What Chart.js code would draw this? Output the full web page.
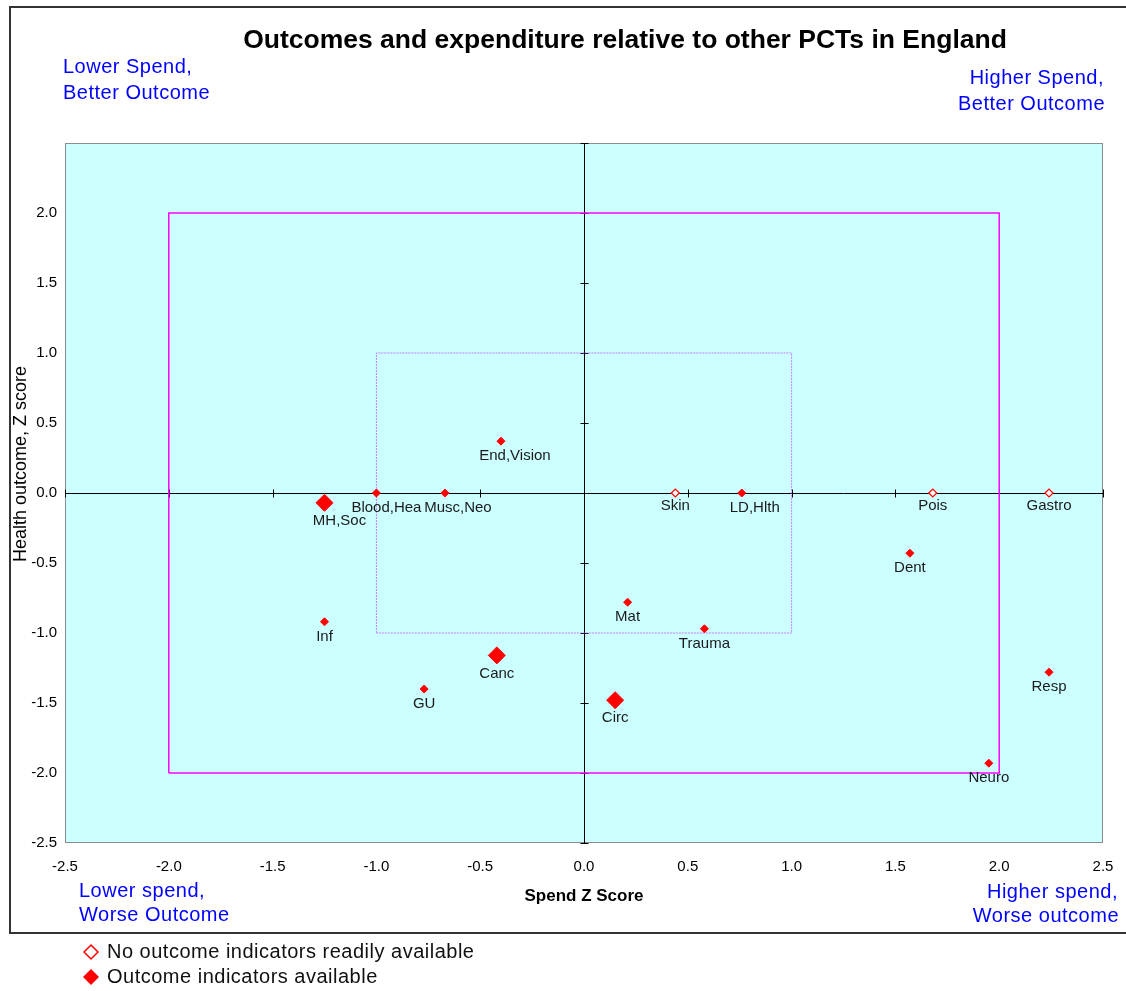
<!DOCTYPE html>
<html lang="en">
<head>
    <meta charset="UTF-8">
    <title>Outcomes and expenditure</title>
    <script src="https://cdn.jsdelivr.net/npm/chart.js"></script>
    <style>
        body {
            margin: 0;
            padding: 0;
            background: #fff;
        }
        #wrap {
            width: 1126px;
            height: 991px;
        }
    </style>
</head>
<body>
    <div id="wrap"><canvas id="pctChart" width="1126" height="991"></canvas></div>
    <script>
        // --- data (spend z score, health outcome z score) ---
        const noOutcomeLabels = ['Skin', 'Pois', 'Gastro'];
        const noOutcomeSpend = [0.44, 1.68, 2.24];
        const noOutcomeHealth = [0.00, 0.00, 0.00];

        const outcomeLabels = ['Blood,Hea', 'Musc,Neo', 'End,Vision', 'LD,Hlth', 'Dent', 'Mat', 'Trauma', 'Inf', 'GU', 'Resp', 'Neuro'];
        const outcomeSpend = [-1.00, -0.67, -0.40, 0.76, 1.57, 0.21, 0.58, -1.25, -0.77, 2.24, 1.95];
        const outcomeHealth = [0.00, 0.00, 0.37, 0.00, -0.43, -0.78, -0.97, -0.92, -1.40, -1.28, -1.93];

        const majorLabels = ['MH,Soc', 'Canc', 'Circ'];
        const majorSpend = [-1.25, -0.42, 0.15];
        const majorHealth = [-0.07, -1.16, -1.48];

        const outerBand = 2;
        const innerBand = 1;
        const axisTicks = [-2.5, -2.0, -1.5, -1.0, -0.5, 0.0, 0.5, 1.0, 1.5, 2.0, 2.5];

        const FONT = "'Liberation Sans', Arial, sans-serif";

        function toPoints(xs, ys) {
            return xs.map((v, i) => ({ x: v, y: ys[i] }));
        }
        function box(b) {
            return [{ x: -b, y: -b }, { x: -b, y: b }, { x: b, y: b }, { x: b, y: -b }, { x: -b, y: -b }];
        }

        // label nudges (pixels) for the comma labels, which sit a little right of their marker
        const labelNudge = { 'MH,Soc': 15, 'End,Vision': 14, 'LD,Hlth': 13, 'Musc,Neo': 13, 'Blood,Hea': 10 };

        const backdrop = {
            id: 'backdrop',
            beforeDatasetsDraw(chart) {
                const { ctx, chartArea: a, scales: { x, y } } = chart;
                ctx.save();
                ctx.fillStyle = '#CCFFFF';
                ctx.fillRect(a.left, a.top, a.right - a.left, a.bottom - a.top);
                ctx.strokeStyle = '#8c8c8c';
                ctx.lineWidth = 1;
                ctx.strokeRect(a.left + 0.5, a.top + 0.5, a.right - a.left - 1, a.bottom - a.top - 1);

                const x0 = Math.round(x.getPixelForValue(0)) + 0.5;
                const y0 = Math.round(y.getPixelForValue(0)) + 0.5;
                ctx.strokeStyle = '#000';
                ctx.beginPath();
                ctx.moveTo(a.left, y0); ctx.lineTo(a.right, y0);
                ctx.moveTo(x0, a.top); ctx.lineTo(x0, a.bottom);
                axisTicks.forEach(v => {
                    const px = Math.round(x.getPixelForValue(v)) + 0.5;
                    ctx.moveTo(px, y0 - 4); ctx.lineTo(px, y0 + 4);
                    const py = Math.round(y.getPixelForValue(v)) + 0.5;
                    ctx.moveTo(x0 - 4, py); ctx.lineTo(x0 + 4, py);
                });
                ctx.stroke();
                ctx.restore();
            }
        };

        const pointNames = {
            id: 'pointNames',
            afterDatasetsDraw(chart) {
                const { ctx } = chart;
                ctx.save();
                ctx.font = '15px ' + FONT;
                ctx.fillStyle = '#1a1a1a';
                ctx.textAlign = 'center';
                ctx.textBaseline = 'middle';
                chart.data.datasets.forEach((ds, i) => {
                    if (!ds.names) return;
                    const meta = chart.getDatasetMeta(i);
                    meta.data.forEach((el, j) => {
                        const name = ds.names[j];
                        const dx = labelNudge[name] || 0;
                        ctx.fillText(name, el.x + dx, el.y + ds.labelDrop);
                    });
                });
                ctx.restore();
            }
        };

        function diamond(ctx, cx, cy, r) {
            ctx.beginPath();
            ctx.moveTo(cx, cy - r); ctx.lineTo(cx + r, cy); ctx.lineTo(cx, cy + r); ctx.lineTo(cx - r, cy);
            ctx.closePath();
        }

        const decorations = {
            id: 'decorations',
            afterDraw(chart) {
                const { ctx, scales: { x } } = chart;
                ctx.save();
                // outer frame
                ctx.strokeStyle = '#333';
                ctx.lineWidth = 2;
                ctx.beginPath();
                ctx.moveTo(1130, 7); ctx.lineTo(10, 7); ctx.lineTo(10, 933); ctx.lineTo(1130, 933);
                ctx.stroke();

                // title
                ctx.fillStyle = '#000';
                ctx.font = 'bold 26.5px ' + FONT;
                ctx.textAlign = 'center';
                ctx.textBaseline = 'middle';
                ctx.fillText('Outcomes and expenditure relative to other PCTs in England', 625, 41);

                // axis titles
                ctx.font = 'bold 17px ' + FONT;
                ctx.fillText('Spend Z Score', x.getPixelForValue(0), 896);
                ctx.save();
                ctx.translate(21, 464);
                ctx.rotate(-Math.PI / 2);
                ctx.font = '18px ' + FONT;
                ctx.fillText('Health outcome, Z score', 0, 0);
                ctx.restore();

                // quadrant notes
                ctx.fillStyle = '#0000ff';
                ctx.font = '20px ' + FONT;
                ctx.letterSpacing = '0.5px';
                ctx.textAlign = 'left';
                ctx.fillText('Lower Spend,', 63, 67);
                ctx.fillText('Better Outcome', 63, 93);
                ctx.fillText('Lower spend,', 79, 891);
                ctx.fillText('Worse Outcome', 79, 915);
                ctx.textAlign = 'right';
                ctx.fillText('Higher Spend,', 1104, 78);
                ctx.fillText('Better Outcome', 1105, 104);
                ctx.fillText('Higher spend,', 1118, 892);
                ctx.fillText('Worse outcome', 1119, 916);

                // legend
                ctx.letterSpacing = '0px';
                ctx.lineWidth = 1.5;
                ctx.strokeStyle = '#ff0000';
                ctx.fillStyle = '#fff';
                diamond(ctx, 91, 952, 7);
                ctx.fill(); ctx.stroke();
                ctx.fillStyle = '#ff0000';
                diamond(ctx, 91, 977, 8);
                ctx.fill();
                ctx.fillStyle = '#111';
                ctx.font = '20px ' + FONT;
                ctx.letterSpacing = '0.5px';
                ctx.textAlign = 'left';
                ctx.fillText('No outcome indicators readily available', 107, 952);
                ctx.fillText('Outcome indicators available', 107, 977);
                ctx.restore();
            }
        };

        const ctx = document.getElementById('pctChart').getContext('2d');
        new Chart(ctx, {
            type: 'scatter',
            data: {
                datasets: [
                    {
                        data: toPoints(noOutcomeSpend, noOutcomeHealth),
                        names: noOutcomeLabels,
                        labelDrop: 13,
                        pointStyle: 'rectRot',
                        radius: 4,
                        backgroundColor: '#ffffff',
                        borderColor: '#ff0000',
                        borderWidth: 1.2
                    },
                    {
                        data: toPoints(outcomeSpend, outcomeHealth),
                        names: outcomeLabels,
                        labelDrop: 15,
                        pointStyle: 'rectRot',
                        radius: 4,
                        backgroundColor: '#ff0000',
                        borderColor: '#ff0000',
                        borderWidth: 1
                    },
                    {
                        data: toPoints(majorSpend, majorHealth),
                        names: majorLabels,
                        labelDrop: 18,
                        pointStyle: 'rectRot',
                        radius: 8.5,
                        backgroundColor: '#ff0000',
                        borderColor: '#ff0000',
                        borderWidth: 1
                    },
                    {
                        data: box(innerBand),
                        showLine: true,
                        pointRadius: 0,
                        borderColor: 'rgba(200, 80, 255, 0.75)',
                        borderWidth: 1,
                        borderDash: [2, 1]
                    },
                    {
                        data: box(outerBand),
                        showLine: true,
                        pointRadius: 0,
                        borderColor: '#ff00ff',
                        borderWidth: 1.5
                    }
                ]
            },
            options: {
                responsive: false,
                animation: false,
                layout: { padding: { top: 143, right: 23, bottom: 0, left: 0 } },
                plugins: {
                    legend: { display: false },
                    tooltip: { enabled: false }
                },
                scales: {
                    x: {
                        type: 'linear',
                        min: -2.5,
                        max: 2.5,
                        grid: { display: false, drawTicks: false },
                        border: { display: false },
                        afterFit: s => { s.height = 148; s.paddingLeft = 0; s.paddingRight = 0; },
                        afterBuildTicks: s => { s.ticks = axisTicks.map(v => ({ value: v })); },
                        ticks: {
                            padding: 15,
                            color: '#000',
                            font: { family: FONT, size: 15 },
                            maxRotation: 0,
                            callback: v => v.toFixed(1)
                        }
                    },
                    y: {
                        type: 'linear',
                        min: -2.5,
                        max: 2.5,
                        grid: { display: false, drawTicks: false },
                        border: { display: false },
                        afterFit: s => { s.width = 65; s.paddingTop = 0; s.paddingBottom = 0; },
                        afterBuildTicks: s => { s.ticks = axisTicks.map(v => ({ value: v })); },
                        ticks: {
                            padding: 8,
                            color: '#000',
                            font: { family: FONT, size: 15 },
                            callback: v => (v >= 2.5 ? '' : v.toFixed(1))
                        }
                    }
                }
            },
            plugins: [backdrop, pointNames, decorations]
        });
    </script>
</body>
</html>
